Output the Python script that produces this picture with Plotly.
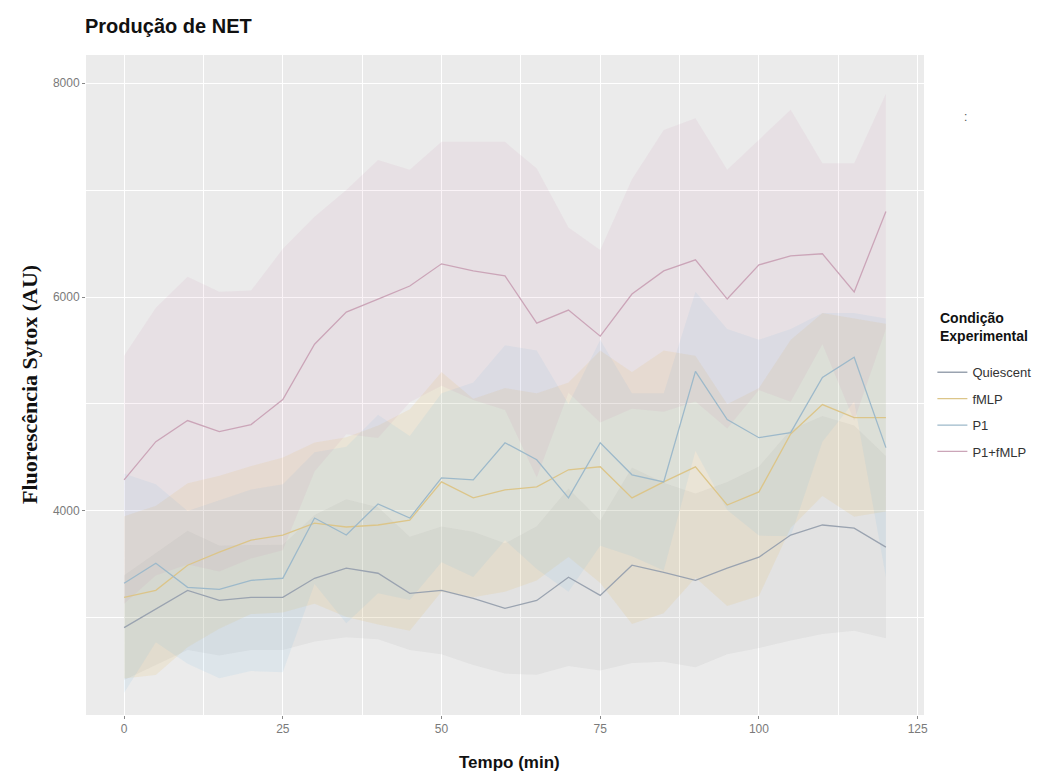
import plotly.graph_objects as go

# Sampling times (min)
tempo = [0, 5, 10, 15, 20, 25, 30, 35, 40, 45, 50, 55, 60,
         65, 70, 75, 80, 85, 90, 95, 100, 105, 110, 115, 120]

condicoes = ["Quiescent", "fMLP", "P1", "P1+fMLP"]

# Mean Sytox fluorescence per condition
quiescent_media = [2910, 3085, 3258, 3164, 3192, 3192, 3371, 3465, 3418, 3230, 3258, 3183, 3089,
                   3164, 3380, 3211, 3493, 3427, 3352, 3465, 3568, 3775, 3869, 3840, 3662]
fmlp_media = [3192, 3258, 3493, 3615, 3728, 3775, 3887, 3850, 3869, 3915, 4272, 4122, 4197,
              4225, 4385, 4413, 4122, 4272, 4413, 4056, 4178, 4720, 4995, 4873, 4873]
p1_media = [3324, 3512, 3286, 3268, 3352, 3371, 3934, 3775, 4066, 3934, 4310, 4291, 4638,
            4479, 4122, 4638, 4338, 4272, 5305, 4854, 4685, 4732, 5249, 5437, 4592]
p1fmlp_media = [4291, 4648, 4845, 4742, 4808, 5042, 5559, 5859, 5981, 6103, 6310, 6244, 6197,
                5756, 5878, 5634, 6028, 6244, 6347, 5981, 6300, 6385, 6404, 6047, 6800]

# Ribbon bounds (lower / upper)
quiescent_inf = [2420, 2560, 2700, 2650, 2700, 2700, 2780, 2820, 2800, 2700, 2660, 2560, 2480,
                 2470, 2550, 2510, 2580, 2590, 2540, 2660, 2720, 2790, 2850, 2880, 2810]
quiescent_sup = [3400, 3610, 3816, 3678, 3684, 3684, 3962, 4110, 4036, 3760, 3856, 3806, 3698,
                 3858, 4210, 3912, 4406, 4264, 4164, 4270, 4416, 4760, 4888, 4800, 4514]
fmlp_inf = [2434, 2466, 2726, 2900, 3036, 3050, 3134, 3010, 2938, 2880, 3244, 3194, 3244,
            3350, 3570, 3326, 2944, 3044, 3376, 3112, 3206, 3840, 4140, 3946, 3996]
fmlp_sup = [3950, 4050, 4260, 4330, 4420, 4500, 4640, 4690, 4800, 4950, 5300, 5050, 5150,
            5100, 5200, 5500, 5300, 5500, 5450, 5000, 5150, 5600, 5850, 5800, 5750]
p1_inf = [2298, 2774, 2572, 2436, 2504, 2492, 3318, 2950, 3232, 3168, 3520, 3382, 3726,
          3458, 3244, 3676, 3576, 3444, 4560, 4008, 3770, 3764, 4648, 5024, 3384]
p1_sup = [4350, 4250, 4000, 4100, 4200, 4250, 4550, 4600, 4900, 4700, 5100, 5200, 5550,
          5500, 5000, 5600, 5100, 5100, 6050, 5700, 5600, 5700, 5850, 5850, 5800]
p1fmlp_inf = [3132, 3396, 3500, 3434, 3556, 3634, 4368, 4718, 4682, 5016, 5170, 5038, 4944,
              4312, 5106, 4828, 4956, 4928, 5024, 4772, 5130, 5020, 5558, 4844, 5700]
p1fmlp_sup = [5450, 5900, 6190, 6050, 6060, 6450, 6750, 7000, 7280, 7190, 7450, 7450, 7450,
              7200, 6650, 6440, 7100, 7560, 7670, 7190, 7470, 7750, 7250, 7250, 7900]

medias = [quiescent_media, fmlp_media, p1_media, p1fmlp_media]
inferiores = [quiescent_inf, fmlp_inf, p1_inf, p1fmlp_inf]
superiores = [quiescent_sup, fmlp_sup, p1_sup, p1fmlp_sup]

cores_faixa = ["rgba(150,150,150,0.10)", "rgba(230,159,0,0.085)",
               "rgba(86,180,233,0.09)", "rgba(204,121,167,0.09)"]
cores_linha = ["#9aa3b0", "#dcc589", "#9db9ca", "#cba5b8"]

fig = go.Figure()

# Shaded ribbons first
for nome, inf, sup, cor in zip(condicoes, inferiores, superiores, cores_faixa):
    fig.add_trace(go.Scatter(x=tempo, y=sup, mode="lines", line=dict(width=0),
                             showlegend=False, hoverinfo="skip", legendgroup=nome))
    fig.add_trace(go.Scatter(x=tempo, y=inf, mode="lines", line=dict(width=0),
                             fill="tonexty", fillcolor=cor, showlegend=False,
                             hoverinfo="skip", legendgroup=nome))

# Mean lines on top
for nome, media, cor in zip(condicoes, medias, cores_linha):
    fig.add_trace(go.Scatter(x=tempo, y=media, mode="lines", name=nome,
                             line=dict(color=cor, width=1.3), legendgroup=nome))

fonte_tick = dict(family="Liberation Sans Narrow, Arial Narrow, Liberation Sans, Arial",
                  size=12, color="#7a7a7a")

fig.update_layout(
    width=1048, height=783,
    margin=dict(l=86, r=124, t=55, b=68),
    paper_bgcolor="white",
    plot_bgcolor="#EBEBEB",
    showlegend=True,
    legend=dict(
        font=dict(family="Liberation Sans Narrow, Arial Narrow, Liberation Sans, Arial",
                  size=13, color="#333333"),
        x=1.01, y=0.542, xanchor="left", yanchor="top",
        itemwidth=30, tracegroupgap=6.5, bgcolor="rgba(0,0,0,0)",
    ),
    xaxis=dict(
        range=[-6, 126], tickvals=[0, 25, 50, 75, 100, 125],
        showgrid=True, gridcolor="white", gridwidth=1.2,
        minor=dict(dtick=12.5, tick0=0, showgrid=True, gridcolor="white", gridwidth=0.6),
        zeroline=False, showline=False,
        ticks="outside", ticklen=3, tickcolor="#888888", tickfont=fonte_tick,
    ),
    yaxis=dict(
        range=[2093, 8262], tickvals=[4000, 6000, 8000],
        showgrid=True, gridcolor="white", gridwidth=1.2,
        minor=dict(dtick=1000, tick0=0, showgrid=True, gridcolor="white", gridwidth=0.6),
        zeroline=False, showline=False,
        ticks="outside", ticklen=3, tickcolor="#888888", tickfont=fonte_tick,
    ),
    annotations=[
        dict(text="<b>Produção de NET</b>", xref="paper", yref="paper",
             x=-0.004, y=1.044, xanchor="left", yanchor="middle", showarrow=False,
             font=dict(family="Liberation Sans, Arial", size=20, color="#111111")),
        dict(text="<b>Fluorescência Sytox (AU)</b>", xref="paper", yref="paper",
             x=-0.068, y=0.5, xanchor="center", yanchor="middle", textangle=-90,
             showarrow=False,
             font=dict(family="Liberation Serif, Times New Roman, serif", size=22, color="#111111")),
        dict(text="<b>Tempo (min)</b>", xref="paper", yref="paper",
             x=0.505, y=-0.072, xanchor="center", yanchor="middle", showarrow=False,
             font=dict(family="Liberation Sans Narrow, Arial Narrow, Liberation Sans, Arial",
                       size=17, color="#111111")),
        # legend heading
        dict(text="<b>Condição<br>Experimental</b>", xref="paper", yref="paper",
             x=1.0165, y=0.588, xanchor="left", yanchor="middle", align="left",
             showarrow=False,
             font=dict(family="Liberation Sans, Arial", size=14, color="#111111")),
        dict(text=":", xref="paper", yref="paper", x=1.05, y=0.906,
             xanchor="center", yanchor="middle", showarrow=False,
             font=dict(family="Liberation Sans, Arial", size=12, color="#555555")),
    ],
)

fig.write_html("out.html")
